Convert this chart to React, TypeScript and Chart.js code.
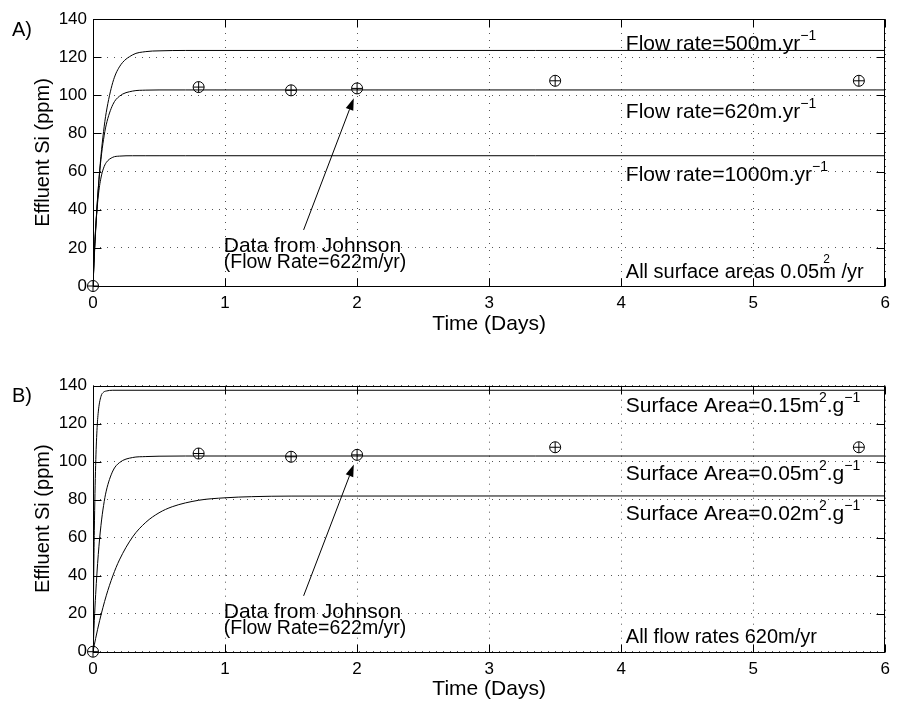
import React, { useEffect, useRef } from "react";
import { Chart, registerables } from "chart.js";
Chart.register(...registerables);

// ---------- axis ticks ----------
const dayTicks = [0, 1, 2, 3, 4, 5, 6];
const siTicks = [0, 20, 40, 60, 80, 100, 120, 140];

// ---------- Johnson measured data (both panels) ----------
const johnsonDays = [0, 0.8, 1.5, 2, 3.5, 5.8];
const johnsonSi = [0, 104.3, 102.6, 103.6, 107.6, 107.6];

// ---------- panel A: flow-rate model curves ----------
const flowDays = [0, 0.01, 0.02, 0.04, 0.06, 0.08, 0.1, 0.15, 0.2, 0.3, 0.4, 0.5, 0.7, 6];
const flow500Si = [0, 15.4, 28.9, 51.1, 68.0, 81.0, 90.9, 106.8, 114.9, 121.2, 122.9, 123.3, 123.5, 123.5];
const flow620Si = [0, 16.3, 30.0, 51.2, 66.3, 76.9, 84.5, 95.1, 99.5, 102.2, 102.7, 102.8, 102.8, 102.8];
const flow1000Si = [0, 17.4, 30.4, 47.2, 56.6, 61.8, 64.7, 67.5, 68.1, 68.3, 68.3, 68.3, 68.3, 68.3];

// ---------- panel B: surface-area model curves ----------
const area015Days = [0, 0.005, 0.01, 0.02, 0.03, 0.04, 0.06, 0.08, 0.1, 0.15, 6];
const area015Si = [0, 36.9, 63.9, 98.1, 116.4, 126.2, 134.3, 136.6, 137.2, 137.6, 137.6];
const area005Days = [0, 0.01, 0.02, 0.04, 0.06, 0.08, 0.1, 0.15, 0.2, 0.3, 0.4, 0.5, 0.7, 6];
const area005Si = [0, 16.3, 30.0, 51.2, 66.3, 76.9, 84.5, 95.1, 99.5, 102.2, 102.7, 102.9, 103.0, 103.0];
const area002Days = [0, 0.01, 0.02, 0.05, 0.1, 0.15, 0.2, 0.3, 0.4, 0.5, 0.6, 0.8, 1.0, 1.2, 1.5, 6];
const area002Si = [0, 3.6, 7.0, 16.3, 29.4, 39.9, 48.3, 60.4, 68.1, 73.1, 76.3, 79.7, 81.0, 81.6, 81.9, 82.0];

const FONT = '"Liberation Sans", Arial, sans-serif';
const MINUS_ONE = "\u22121";

type Part = { t: string; sup?: boolean };
type Label = { x: number; y: number; size: number; parts: Part[] };

const labelsA: Label[] = [
  { x: 4.035, y: 124.0, size: 21, parts: [{ t: "Flow rate=500m.yr" }, { t: MINUS_ONE, sup: true }] },
  { x: 4.035, y: 88.3, size: 21, parts: [{ t: "Flow rate=620m.yr" }, { t: MINUS_ONE, sup: true }] },
  { x: 4.035, y: 54.8, size: 21, parts: [{ t: "Flow rate=1000m.yr" }, { t: MINUS_ONE, sup: true }] },
  { x: 4.035, y: 4.0, size: 20, parts: [{ t: "All surface areas 0.05m /yr" }] },
  { x: 5.53, y: 11.8, size: 12, parts: [{ t: "2" }] },
  { x: 0.99, y: 18.0, size: 21, parts: [{ t: "Data from Johnson" }] },
  { x: 0.99, y: 9.3, size: 19.5, parts: [{ t: "(Flow Rate=622m/yr)" }] },
];

const labelsB: Label[] = [
  { x: 4.035, y: 126.3, size: 21, parts: [{ t: "Surface Area=0.15m" }, { t: "2", sup: true }, { t: ".g" }, { t: MINUS_ONE, sup: true }] },
  { x: 4.035, y: 90.4, size: 21, parts: [{ t: "Surface Area=0.05m" }, { t: "2", sup: true }, { t: ".g" }, { t: MINUS_ONE, sup: true }] },
  { x: 4.035, y: 69.3, size: 21, parts: [{ t: "Surface Area=0.02m" }, { t: "2", sup: true }, { t: ".g" }, { t: MINUS_ONE, sup: true }] },
  { x: 4.035, y: 4.4, size: 20, parts: [{ t: "All flow rates 620m/yr" }] },
  { x: 0.99, y: 18.0, size: 21, parts: [{ t: "Data from Johnson" }] },
  { x: 0.99, y: 9.3, size: 19.5, parts: [{ t: "(Flow Rate=622m/yr)" }] },
];

const arrowFrom = [1.595, 29.4];
const arrowTo = [1.975, 98.5];

function pts(xs: number[], ys: number[]) {
  return xs.map((x, i) => ({ x, y: ys[i] }));
}

const matlabPlugin = {
  id: "matlab",
  afterDatasetsDraw(chart: any, _args: any, opts: any) {
    const { ctx, chartArea: a, scales } = chart;
    const xs = scales.x;
    const ys = scales.y;
    ctx.save();
    ctx.strokeStyle = "#000";
    ctx.lineWidth = 1;
    const L = Math.round(a.left) + 0.5;
    const R = Math.round(a.right) - 0.5;
    const T = Math.round(a.top) + 0.5;
    const B = Math.round(a.bottom) + 0.5;
    ctx.strokeRect(L, T, R - L, B - T);
    const tl = 8;
    ctx.beginPath();
    for (const v of dayTicks) {
      const px = Math.round(xs.getPixelForValue(v)) + 0.5;
      ctx.moveTo(px, B);
      ctx.lineTo(px, B - tl);
      ctx.moveTo(px, T);
      ctx.lineTo(px, T + tl);
    }
    for (const v of siTicks) {
      const py = Math.round(ys.getPixelForValue(v)) + 0.5;
      ctx.moveTo(L, py);
      ctx.lineTo(L + tl, py);
      ctx.moveTo(R, py);
      ctx.lineTo(R - tl, py);
    }
    ctx.stroke();

    // labels
    ctx.fillStyle = "#000";
    ctx.textAlign = "left";
    ctx.textBaseline = "alphabetic";
    for (const lab of opts.labels as Label[]) {
      let cx = xs.getPixelForValue(lab.x);
      const cy = ys.getPixelForValue(lab.y);
      for (const p of lab.parts) {
        ctx.font = `${p.sup ? 14 : lab.size}px ${FONT}`;
        ctx.fillText(p.t, cx, p.sup ? cy - 10 : cy);
        cx += ctx.measureText(p.t).width;
      }
    }

    // arrow
    const x1 = xs.getPixelForValue(arrowFrom[0]);
    const y1 = ys.getPixelForValue(arrowFrom[1]);
    const x2 = xs.getPixelForValue(arrowTo[0]);
    const y2 = ys.getPixelForValue(arrowTo[1]);
    const ang = Math.atan2(y2 - y1, x2 - x1);
    const hl = 12;
    const hw = 4;
    const bx = x2 - hl * Math.cos(ang);
    const by = y2 - hl * Math.sin(ang);
    ctx.beginPath();
    ctx.moveTo(x1, y1);
    ctx.lineTo(bx, by);
    ctx.stroke();
    ctx.beginPath();
    ctx.moveTo(x2, y2);
    ctx.lineTo(bx + hw * Math.sin(ang), by - hw * Math.cos(ang));
    ctx.lineTo(bx - hw * Math.sin(ang), by + hw * Math.cos(ang));
    ctx.closePath();
    ctx.fill();

    // panel letter
    ctx.font = `20px ${FONT}`;
    ctx.textBaseline = "middle";
    ctx.fillText(opts.panel, 12, a.top + 11);
    ctx.restore();
  },
};

type PanelCfg = {
  top: number;
  padTop: number;
  axisH: number;
  titlePadBottom: number;
  panel: string;
  labels: Label[];
  curves: { days: number[]; si: number[] }[];
};

const panels: PanelCfg[] = [
  {
    top: 0,
    padTop: 19,
    axisH: 65,
    titlePadBottom: 14,
    panel: "A)",
    labels: labelsA,
    curves: [
      { days: flowDays, si: flow500Si },
      { days: flowDays, si: flow620Si },
      { days: flowDays, si: flow1000Si },
    ],
  },
  {
    top: 351,
    padTop: 34.7,
    axisH: 50.3,
    titlePadBottom: 0,
    panel: "B)",
    labels: labelsB,
    curves: [
      { days: area015Days, si: area015Si },
      { days: area005Days, si: area005Si },
      { days: area002Days, si: area002Si },
    ],
  },
];

function Panel({ cfg }: { cfg: PanelCfg }) {
  const ref = useRef<HTMLCanvasElement>(null);
  useEffect(() => {
    const gridCommon = { color: "#555", lineWidth: 1, drawTicks: false };
    const markerBase = {
      data: pts(johnsonDays, johnsonSi),
      pointRadius: 5.5,
      pointBorderColor: "#000",
      pointBackgroundColor: "rgba(0,0,0,0)",
      pointBorderWidth: 1,
      showLine: false,
      clip: false as any,
      order: 0,
    };
    const chart = new Chart(ref.current!, {
      type: "scatter",
      data: {
        datasets: [
          { ...markerBase, pointStyle: "circle" },
          { ...markerBase, pointStyle: "cross" },
          ...cfg.curves.map((c) => ({
            data: pts(c.days, c.si),
            showLine: true,
            borderColor: "#000",
            borderWidth: 1,
            pointRadius: 0,
            cubicInterpolationMode: "monotone" as const,
            order: 1,
          })),
        ],
      },
      options: {
        animation: false,
        responsive: false,
        maintainAspectRatio: false,
        layout: { padding: { top: cfg.padTop, right: 4, left: 0, bottom: 0 } },
        plugins: {
          legend: { display: false },
          tooltip: { enabled: false },
          matlab: { labels: cfg.labels, panel: cfg.panel },
        } as any,
        scales: {
          x: {
            type: "linear",
            min: 0,
            max: 6,
            afterBuildTicks: (s: any) => {
              s.ticks = dayTicks.map((v) => ({ value: v }));
            },
            afterFit: (s: any) => {
              s.height = cfg.axisH;
            },
            ticks: { color: "#000", padding: 7, font: { family: FONT, size: 17 } },
            grid: gridCommon,
            border: { display: false, dash: [1, 6] },
            title: {
              display: true,
              text: "Time (Days)",
              color: "#000",
              font: { family: FONT, size: 21 },
              padding: { top: 0, bottom: cfg.titlePadBottom },
            },
          },
          y: {
            type: "linear",
            min: 0,
            max: 140,
            afterBuildTicks: (s: any) => {
              s.ticks = siTicks.map((v) => ({ value: v }));
            },
            afterFit: (s: any) => {
              s.width = 93;
            },
            ticks: { color: "#000", padding: 6, font: { family: FONT, size: 17 } },
            grid: gridCommon,
            border: { display: false, dash: [1, 6] },
            title: {
              display: true,
              text: "Effluent Si (ppm)",
              color: "#000",
              font: { family: FONT, size: 20 },
              padding: { top: 31, bottom: 0 },
            },
          },
        },
      },
      plugins: [matlabPlugin],
    } as any);
    return () => chart.destroy();
  }, [cfg]);
  return (
    <canvas
      ref={ref}
      width={897}
      height={351}
      style={{ position: "absolute", left: 0, top: cfg.top, width: 897, height: 351 }}
    />
  );
}

export default function App() {
  return (
    <div style={{ position: "absolute", left: 0, top: 0, width: 897, height: 702, background: "#fff" }}>
      {panels.map((p, i) => (
        <Panel key={i} cfg={p} />
      ))}
    </div>
  );
}
